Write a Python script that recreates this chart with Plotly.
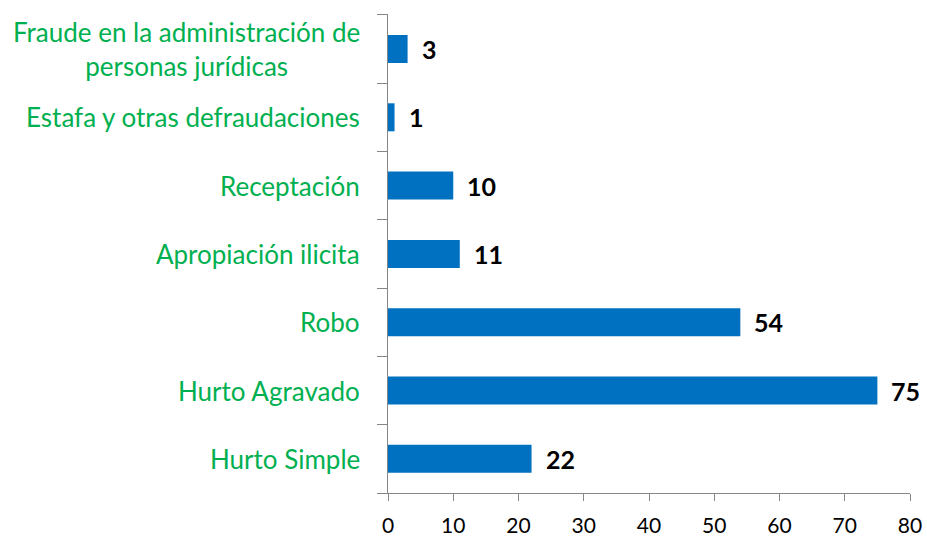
import plotly.graph_objects as go

categories = ["Hurto Simple", "Hurto Agravado", "Robo", "Apropiación ilicita",
              "Receptación", "Estafa y otras defraudaciones",
              "Fraude en la administración de<br>personas jurídicas"]
values = [22, 75, 54, 11, 10, 1, 3]
x_ticks = [0, 10, 20, 30, 40, 50, 60, 70, 80]

FONT = "Lato, Carlito, Calibri, sans-serif"
GREEN = "#00B050"
BLUE = "#0070C0"
AXIS = "#868686"

fig = go.Figure(go.Bar(
    x=values, y=categories, orientation="h",
    marker=dict(color=BLUE, line=dict(width=0)),
    width=0.41,
    hoverinfo="skip",
))

annotations = []
for c, v in zip(categories, values):
    annotations.append(dict(
        x=v, y=c, xref="x", yref="y", text=f"<b>{v}</b>", showarrow=False,
        xanchor="left", yanchor="middle", xshift=12,
        font=dict(family=FONT, size=25, color="black")))
    annotations.append(dict(
        x=0, y=c, xref="paper", yref="y", text=c, showarrow=False,
        xanchor="right", yanchor="middle", align="center", xshift=-26,
        font=dict(family=FONT, size=26, color=GREEN)))

fig.update_layout(
    width=927, height=536,
    margin=dict(l=388, r=17, t=14, b=43, autoexpand=False),
    paper_bgcolor="white", plot_bgcolor="white",
    showlegend=False,
    annotations=annotations,
    xaxis=dict(range=[0, 80], tickvals=x_ticks, ticks="outside", ticklen=7,
               tickcolor=AXIS, showline=True, linecolor=AXIS, linewidth=1.3,
               showgrid=False, zeroline=False, automargin=False,
               ticklabelstandoff=6,
               tickfont=dict(family=FONT, size=21, color="black")),
    yaxis=dict(categoryorder="array", categoryarray=categories,
               tickson="boundaries", ticks="outside", ticklen=10,
               tickcolor=AXIS, showline=True, linecolor=AXIS, linewidth=1.3,
               showticklabels=False, showgrid=False, zeroline=False,
               automargin=False),
)

fig.write_html("out.html",
               config={"displayModeBar": False, "staticPlot": True},
               post_script="document.body.style.margin='0';"
                           "document.body.style.overflow='hidden';")
